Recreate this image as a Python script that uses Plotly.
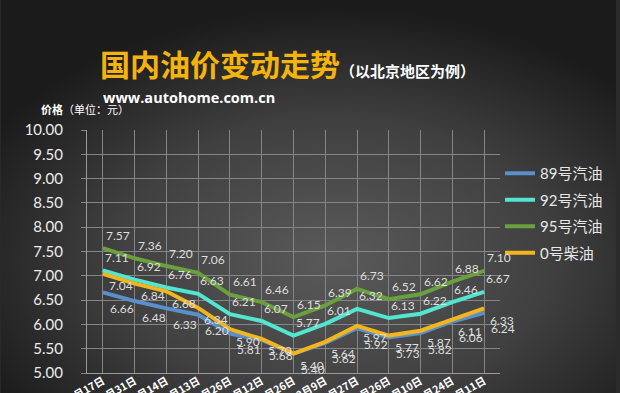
import base64
import plotly.graph_objects as go

# ---------------- data ----------------
dates = ["10月17日", "10月31日", "11月14日", "12月13日", "12月26日", "1月12日", "1月26日",
         "2月9日", "2月27日", "3月26日", "4月10日", "4月24日", "5月11日"]
series_names = ["89号汽油", "92号汽油", "95号汽油", "0号柴油"]
gas89 = [6.66, 6.48, 6.33, 6.20, 5.81, 5.68, 5.40, 5.62, 5.92, 5.73, 5.82, 6.06, 6.24]
gas92 = [7.11, 6.92, 6.76, 6.63, 6.21, 6.07, 5.77, 6.01, 6.32, 6.13, 6.22, 6.46, 6.67]
gas95 = [7.57, 7.36, 7.20, 7.06, 6.61, 6.46, 6.15, 6.39, 6.73, 6.52, 6.62, 6.88, 7.10]
diesel0 = [7.04, 6.84, 6.68, 6.34, 5.90, 5.70, 5.40, 5.64, 5.97, 5.77, 5.87, 6.11, 6.33]
y_ticks = [5.0, 5.5, 6.0, 6.5, 7.0, 7.5, 8.0, 8.5, 9.0, 9.5, 10.0]

# ---------------- styles ----------------
W, H = 620, 393
L, R, T, B = 87, 117, 130, 20
PW, PH = W - L - R, H - T - B
colors = ["#5b8fcb", "#52e5d0", "#6aa13f", "#f3b51d"]
label_shift = [(19, -16), (14, 13), (15, 13), (18, -12)]
num_font = "Lato, Noto Sans CJK SC, sans-serif"
cjk_font = "Noto Sans CJK SC, sans-serif"

def px_x(px):
    return (px - L) / PW

def px_y(py):
    return (H - B - py) / PH

svg = f'''<svg xmlns="http://www.w3.org/2000/svg" width="{W}" height="{H}">
<defs><radialGradient id="g" cx="54%" cy="66%" r="64%" fx="54%" fy="66%">
<stop offset="0%" stop-color="#5a5a5a"/><stop offset="55%" stop-color="#404040"/>
<stop offset="100%" stop-color="#1b1b1b"/></radialGradient></defs>
<rect width="{W}" height="{H}" fill="url(#g)"/></svg>'''
bg_src = "data:image/svg+xml;base64," + base64.b64encode(svg.encode()).decode()

fig = go.Figure()
all_series = [gas89, gas92, gas95, diesel0]
for name, vals, col in zip(series_names, all_series, colors):
    fig.add_trace(go.Scatter(
        x=dates, y=vals, name=name, mode="lines", legendgroup=name,
        line=dict(color=col, width=4), hoverinfo="x+y+name",
    ))

annotations = []
for vals, (dx, dy) in zip(all_series, label_shift):
    for d, v in zip(dates, vals):
        annotations.append(dict(
            x=d, y=v, xref="x", yref="y", text=f"{v:.2f}", showarrow=False,
            xshift=dx, yshift=dy, font=dict(family=num_font, size=12, color="#dedede"),
        ))

annotations += [
    dict(x=px_x(221), y=px_y(63), xref="paper", yref="paper", showarrow=False,
         text="<b>国内油价变动走势</b>", xanchor="center", yanchor="middle",
         font=dict(family=cjk_font, size=30, color="#f5b40d")),
    dict(x=px_x(340), y=px_y(70), xref="paper", yref="paper", showarrow=False,
         text="<b>（以北京地区为例）</b>", xanchor="left", yanchor="middle",
         font=dict(family=cjk_font, size=15, color="#ffffff")),
    dict(x=px_x(101), y=px_y(98), xref="paper", yref="paper", showarrow=False,
         text="<b>www.autohome.com.cn</b>", xanchor="left", yanchor="middle",
         font=dict(family="Open Sans, sans-serif", size=14.5, color="#ffffff")),
    dict(x=px_x(39), y=px_y(109), xref="paper", yref="paper", showarrow=False,
         text="<b>价格</b>（单位：元）", xanchor="left", yanchor="middle",
         font=dict(family=cjk_font, size=11, color="#ffffff")),
]

fig.update_layout(
    width=W, height=H,
    margin=dict(l=L, r=R, t=T, b=B, pad=0),
    paper_bgcolor="#2a2a2a", plot_bgcolor="rgba(0,0,0,0)",
    images=[dict(source=bg_src, xref="paper", yref="paper",
                 x=-L / PW, y=1 + T / PH, sizex=W / PW, sizey=H / PH,
                 sizing="stretch", layer="below", xanchor="left", yanchor="top")],
    showlegend=True,
    legend=dict(x=px_x(503), y=px_y(157), xanchor="left", yanchor="top",
                bgcolor="rgba(0,0,0,0)", tracegroupgap=4,
                font=dict(family=num_font, size=15, color="#e8e8e8")),
    annotations=annotations,
    xaxis=dict(type="category", categoryorder="array", categoryarray=dates,
               range=[-0.5, len(dates) - 0.5], showgrid=True, gridcolor="#858585", gridwidth=1,
               showline=True, linecolor="#9a9a9a", linewidth=1, zeroline=False,
               tickvals=dates, ticktext=[f"<b>{d}</b>" for d in dates],
               tickangle=-30, automargin=False, ticks="", ticklabelstandoff=-3,
               tickfont=dict(family=cjk_font, size=10.5, color="#ffffff")),
    yaxis=dict(range=[5, 10], tickvals=y_ticks, ticktext=[f"{v:.2f}" for v in y_ticks],
               showgrid=True, gridcolor="#858585", gridwidth=1, zeroline=False,
               showline=True, linecolor="#9a9a9a", linewidth=1,
               ticks="outside", ticklen=5, tickcolor="#858585", ticklabelstandoff=15,
               automargin=False,
               tickfont=dict(family=num_font, size=15, color="#ececec")),
)

fig.write_html("out.html", post_script="document.body.style.margin='0px';",
               config={"displayModeBar": False})
